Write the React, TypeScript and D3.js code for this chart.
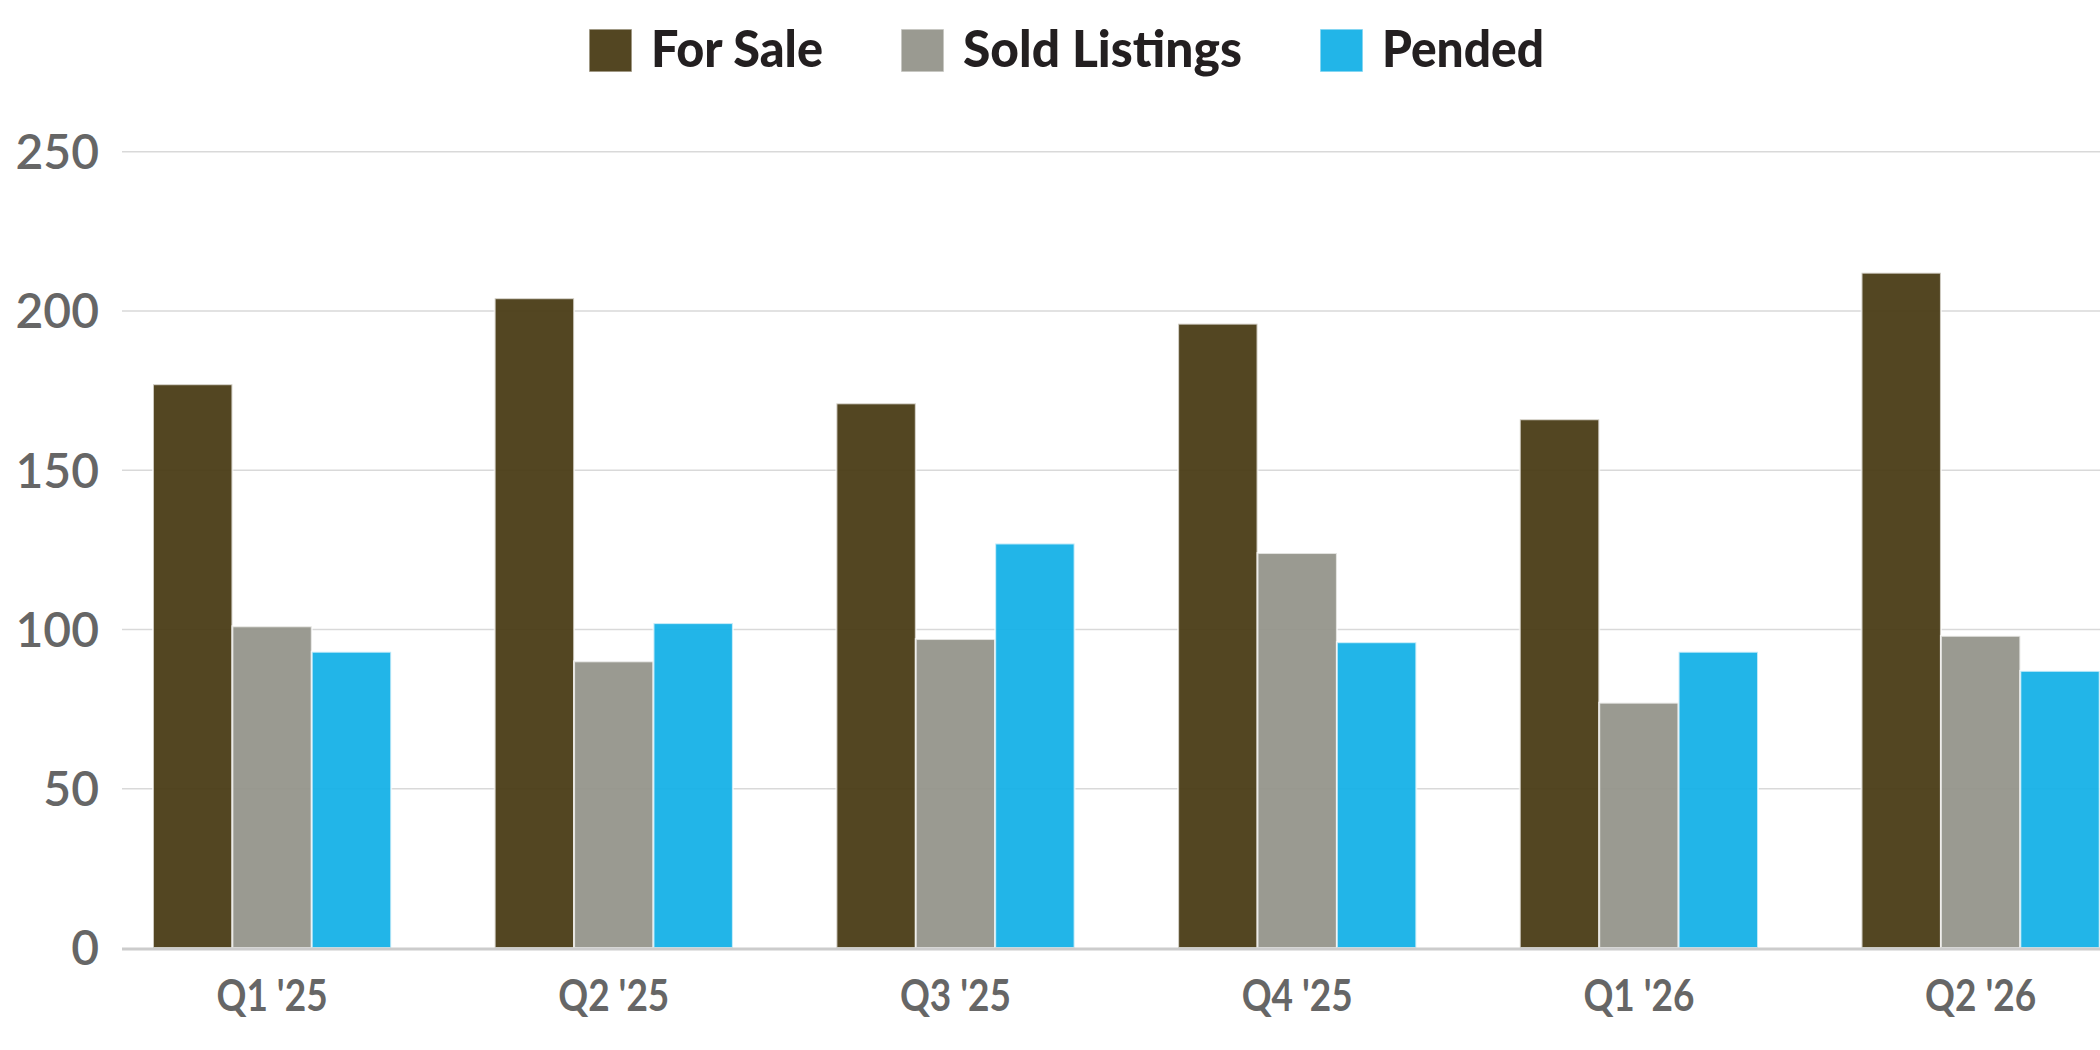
import * as d3 from "d3";
import React, { Component } from "react";

// chart data
const quarters = ["Q1 '25", "Q2 '25", "Q3 '25", "Q4 '25", "Q1 '26", "Q2 '26"];
const seriesNames = ["For Sale", "Sold Listings", "Pended"];
const forSale = [177, 204, 171, 196, 166, 212];
const soldListings = [101, 90, 97, 124, 77, 98];
const pended = [93, 102, 127, 96, 93, 87];
const yTicks = [0, 50, 100, 150, 200, 250];

const seriesValues = [forSale, soldListings, pended];
const seriesColors = ["#4a3c16", "#95958b", "#16b1e7"];
// rendered widths of the legend labels (the original font is narrower than Lato)
const legendTextWidths = [172, 279, 162];

interface ChartProps {
    width: number;
    height: number;
}

class QuarterBarChart extends Component<ChartProps, {}> {
    private ref!: SVGSVGElement;

    drawChart() {
        const { width } = this.props;
        const svg = d3.select(this.ref);
        svg.selectAll("*").remove();

        const plotLeft = 122;

        // outer band for quarters, inner band for the three series
        const x0 = d3.scaleBand<string>()
            .domain(quarters)
            .range([plotLeft, 2130.7])
            .paddingInner(0.303)
            .paddingOuter(0.0907);
        const x1 = d3.scaleBand<string>()
            .domain(seriesNames)
            .range([0, x0.bandwidth()])
            .padding(0);
        const y = d3.scaleLinear().domain([0, 250]).range([948, 151.7]);

        // gridlines
        svg.append("g")
            .selectAll("line")
            .data(yTicks.filter(t => t > 0))
            .enter()
            .append("line")
            .attr("x1", plotLeft)
            .attr("x2", width)
            .attr("y1", d => y(d))
            .attr("y2", d => y(d))
            .attr("stroke", "#d9d9d9")
            .attr("stroke-width", 1.5);

        // y tick labels
        svg.append("g")
            .selectAll("text")
            .data(yTicks)
            .enter()
            .append("text")
            .attr("x", 99)
            .attr("y", d => y(d))
            .attr("dy", "0.36em")
            .attr("text-anchor", "end")
            .style("font-family", "Lato, sans-serif")
            .style("font-size", "48px")
            .style("font-weight", 600)
            .attr("fill", "#666666")
            .text(d => d);

        // bars
        const rows = quarters.map((q, i) => ({
            quarter: q,
            values: seriesNames.map((s, j) => ({ series: s, value: seriesValues[j][i], color: seriesColors[j] }))
        }));

        const groups = svg.append("g")
            .selectAll("g")
            .data(rows)
            .enter()
            .append("g")
            .attr("transform", d => "translate(" + x0(d.quarter) + ",0)");

        groups.selectAll("rect")
            .data(d => d.values)
            .enter()
            .append("rect")
            .attr("x", d => x1(d.series)!)
            .attr("y", d => y(d.value))
            .attr("width", x1.bandwidth())
            .attr("height", d => y(0) - y(d.value))
            .attr("fill", d => d.color)
            .attr("fill-opacity", 0.95)
            .attr("stroke", "#ffffff")
            .attr("stroke-opacity", 0.7)
            .attr("stroke-width", 2);

        // baseline
        svg.append("line")
            .attr("x1", plotLeft)
            .attr("x2", width)
            .attr("y1", y(0) + 1)
            .attr("y2", y(0) + 1)
            .attr("stroke", "#cccccc")
            .attr("stroke-width", 3);

        // x labels
        const xLabels = svg.append("g")
            .selectAll("text")
            .data(quarters)
            .enter()
            .append("text")
            .attr("x", d => x0(d)! + x0.bandwidth() / 2)
            .attr("y", 1011)
            .attr("text-anchor", "middle")
            .style("font-family", "Lato, sans-serif")
            .style("font-size", "43px")
            .style("font-weight", 700)
            .attr("fill", "#666666")
            .text(d => d);
        xLabels.each(function () {
            const t = this as SVGTextElement;
            t.setAttribute("textLength", String(t.getComputedTextLength() * 0.86));
            t.setAttribute("lengthAdjust", "spacingAndGlyphs");
        });

        // legend
        const legend = svg.append("g");
        let cx = 589;
        seriesNames.forEach((name, i) => {
            legend.append("rect")
                .attr("x", cx)
                .attr("y", 29)
                .attr("width", 43)
                .attr("height", 43)
                .attr("fill", seriesColors[i])
                .attr("fill-opacity", 0.95)
                .attr("stroke", "#ffffff")
                .attr("stroke-opacity", 0.6)
                .attr("stroke-width", 1.5);
            const w = legendTextWidths[i];
            legend.append("text")
                .attr("x", cx + 62)
                .attr("y", 67)
                .attr("textLength", w)
                .attr("lengthAdjust", "spacingAndGlyphs")
                .style("font-family", "Lato, sans-serif")
                .style("font-size", "51px")
                .style("font-weight", 900)
                .attr("fill", "#231f20")
                .text(name);
            cx += 62 + w + 78;
        });
    }

    componentDidMount() {
        this.drawChart();
    }

    render() {
        return (
            <svg
                ref={(ref: SVGSVGElement) => { this.ref = ref; }}
                width={this.props.width}
                height={this.props.height}
                style={{ position: "absolute", left: 0, top: 0, background: "#ffffff", overflow: "hidden" }}
            ></svg>
        );
    }
}

export default function App() {
    return <QuarterBarChart width={2100} height={1050} />;
}
